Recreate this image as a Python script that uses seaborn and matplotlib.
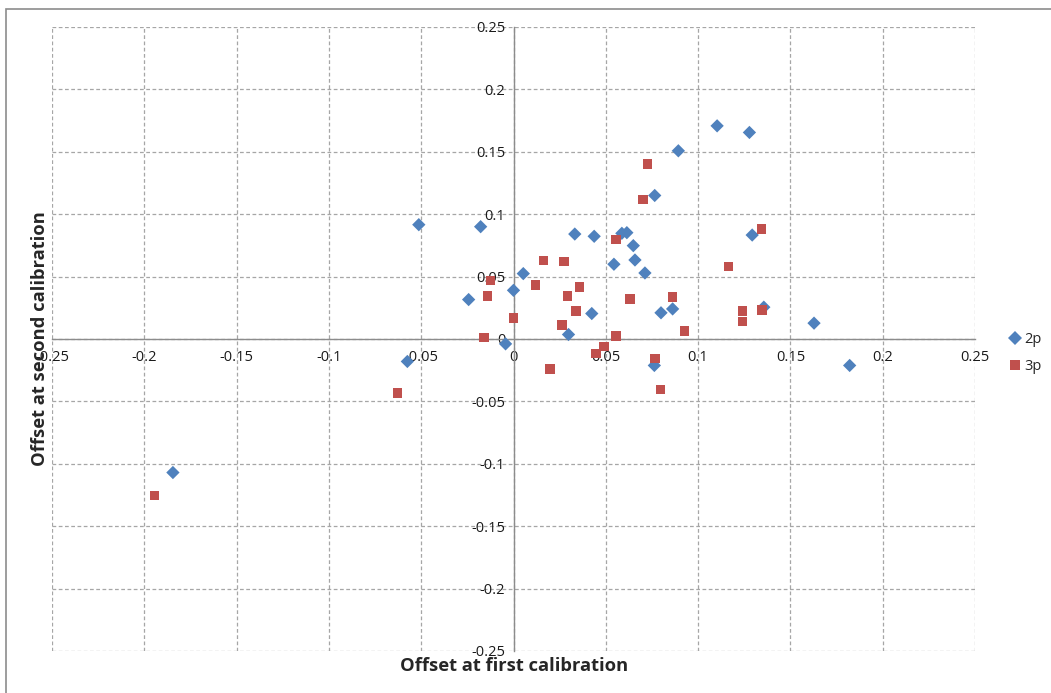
import matplotlib
matplotlib.use("Agg")
import matplotlib.pyplot as plt
import seaborn as sns
import pandas as pd
from matplotlib.patches import Rectangle
from matplotlib.ticker import FixedLocator, FuncFormatter

# Offsets measured for the two-point (2p) calibration
x_2p = [-0.1845, -0.0575, -0.0513, -0.0178, -0.0243, 0.0000, -0.0043, 0.0053,
        0.0332, 0.0437, 0.0544, 0.0587, 0.0614, 0.0649, 0.0658, 0.0712,
        0.0765, 0.0893, 0.1103, 0.1278, 0.1293, 0.1356, 0.1628, 0.1821,
        0.0799, 0.0862, 0.0763, 0.0424, 0.0298]
y_2p = [-0.1070, -0.0180, 0.0916, 0.0900, 0.0316, 0.0390, -0.0039, 0.0524,
        0.0841, 0.0823, 0.0599, 0.0847, 0.0852, 0.0748, 0.0633, 0.0529,
        0.1150, 0.1508, 0.1708, 0.1655, 0.0833, 0.0255, 0.0127, -0.0212,
        0.0210, 0.0241, -0.0212, 0.0204, 0.0036]

# Offsets measured for the three-point (3p) calibration
x_3p = [-0.1946, -0.0628, -0.0160, -0.0142, -0.0124, 0.0000, 0.0120, 0.0162,
        0.0274, 0.0292, 0.0356, 0.0339, 0.0262, 0.0198, 0.0446, 0.0491,
        0.0556, 0.0631, 0.0862, 0.0926, 0.0766, 0.0795, 0.1242, 0.1242,
        0.1347, 0.1342, 0.1164, 0.0555, 0.0701, 0.0725]
y_3p = [-0.1254, -0.0434, 0.0010, 0.0346, 0.0468, 0.0167, 0.0434, 0.0628,
        0.0620, 0.0346, 0.0415, 0.0223, 0.0113, -0.0241, -0.0116, -0.0060,
        0.0025, 0.0321, 0.0337, 0.0063, -0.0156, -0.0404, 0.0225, 0.0140,
        0.0233, 0.0881, 0.0580, 0.0796, 0.1116, 0.1401]

series_names = ["2p", "3p"]
tick_values = [-0.25, -0.2, -0.15, -0.1, -0.05, 0, 0.05, 0.1, 0.15, 0.2, 0.25]

df = pd.concat([
    pd.DataFrame({"first": x_2p, "second": y_2p, "series": series_names[0]}),
    pd.DataFrame({"first": x_3p, "second": y_3p, "series": series_names[1]}),
], ignore_index=True)

sns.set_style("white")
plt.rcParams["font.family"] = ["Open Sans", "DejaVu Sans"]

fig = plt.figure(figsize=(10.51, 6.93), dpi=100)
ax = fig.add_axes([52 / 1051, 42 / 693, 923 / 1051, 624 / 693])

# chart-area frame
fig.patches.append(Rectangle((6 / 1051, -0.1), 1.2, (693 - 9) / 693 + 0.1,
                             transform=fig.transFigure, fill=False,
                             edgecolor="#8c8c8c", linewidth=1.2, zorder=0))

sns.scatterplot(data=df, x="first", y="second", hue="series", style="series",
                palette={"2p": "#4F81BD", "3p": "#C0504D"},
                markers={"2p": "D", "3p": "s"},
                s=46, linewidth=0, ax=ax, zorder=3)

ax.set_xlim(-0.25, 0.25)
ax.set_ylim(-0.25, 0.25)
ax.xaxis.set_major_locator(FixedLocator(tick_values))
ax.yaxis.set_major_locator(FixedLocator(tick_values))
fmt = FuncFormatter(lambda v, p: f"{v:g}")
ax.xaxis.set_major_formatter(fmt)
ax.yaxis.set_major_formatter(fmt)

ax.grid(True, color="#a6a6a6", linestyle=(0, (3, 2)), linewidth=0.9)
ax.set_axisbelow(True)

for side in ["top", "right"]:
    ax.spines[side].set_visible(False)
ax.spines["left"].set_position(("data", 0))
ax.spines["bottom"].set_position(("data", 0))
for side in ["left", "bottom"]:
    ax.spines[side].set_color("#8c8c8c")
    ax.spines[side].set_linewidth(1.0)
    ax.spines[side].set_zorder(2)

ax.tick_params(axis="both", direction="out", length=4, width=1,
               color="#8c8c8c", labelsize=10.5, labelcolor="#1a1a1a")
ax.tick_params(axis="x", pad=4)
ax.tick_params(axis="y", pad=2)

ax.set_xlabel("")
ax.set_ylabel("")
fig.text(514 / 1051, 1 - 666 / 693, "Offset at first calibration",
         ha="center", va="center", fontsize=13.2, fontweight="bold")
fig.text(40 / 1051, 1 - 339 / 693, "Offset at second calibration",
         ha="center", va="center", rotation=90, fontsize=13.2, fontweight="bold")

handles, labels = ax.get_legend_handles_labels()
ax.legend(handles, labels, loc="center left", bbox_to_anchor=(1009 / 1051, 1 - 353 / 693),
          bbox_transform=fig.transFigure, frameon=False, fontsize=10.5,
          handlelength=0.8, handletextpad=0.25, labelspacing=0.8,
          borderaxespad=0, borderpad=0)

fig.savefig("out.png", dpi=100, facecolor="white")
